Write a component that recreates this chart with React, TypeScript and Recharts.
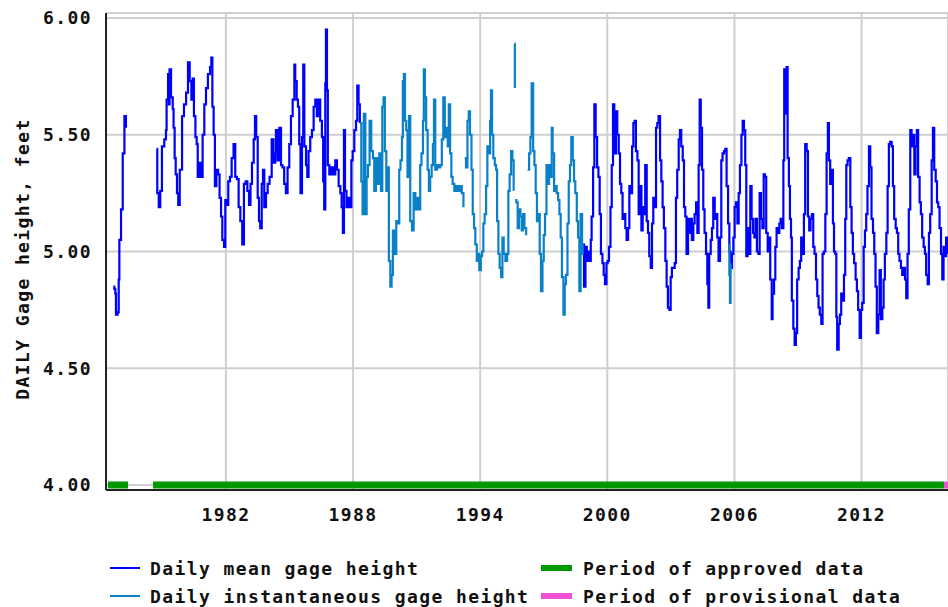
import * as React from "react";
import { CartesianGrid, Line, LineChart, XAxis, YAxis } from "recharts";

// gage height readings, [decimal year, feet]; null breaks the line
type Pt = [number, number | null];

const meanEarly: Pt[] = [
  [1976.69, 4.85], [1976.73, 4.84], [1976.78, 4.82], [1976.81, 4.73], [1976.89, 4.74],
  [1976.94, 4.88], [1976.97, 5.05], [1977.05, 5.18], [1977.13, 5.42], [1977.21, 5.58],
  [1977.28, 5.53],
];

const meanMid: Pt[] = [
  [1978.73, 5.44], [1978.76, 5.25], [1978.83, 5.19], [1978.9, 5.26], [1978.98, 5.45],
  [1979.09, 5.48], [1979.17, 5.52], [1979.2, 5.65], [1979.27, 5.76], [1979.31, 5.63],
  [1979.34, 5.78], [1979.41, 5.66], [1979.49, 5.61], [1979.53, 5.53], [1979.58, 5.4],
  [1979.63, 5.33], [1979.69, 5.25], [1979.75, 5.2], [1979.82, 5.35], [1979.93, 5.58],
  [1980.02, 5.63], [1980.12, 5.68], [1980.21, 5.81], [1980.29, 5.73], [1980.37, 5.65],
  [1980.43, 5.74], [1980.49, 5.58], [1980.56, 5.49], [1980.62, 5.46], [1980.67, 5.32],
  [1980.73, 5.38], [1980.81, 5.32], [1980.9, 5.5], [1980.98, 5.63], [1981.06, 5.7],
  [1981.15, 5.76], [1981.25, 5.79], [1981.31, 5.83], [1981.36, 5.62], [1981.42, 5.5],
  [1981.48, 5.28], [1981.55, 5.35], [1981.63, 5.33], [1981.7, 5.23], [1981.77, 5.15],
  [1981.83, 5.05], [1981.91, 5.02], [1981.97, 5.22], [1982.05, 5.2], [1982.11, 5.3],
  [1982.19, 5.32], [1982.27, 5.4], [1982.36, 5.46], [1982.44, 5.32], [1982.52, 5.31],
  [1982.6, 5.19], [1982.68, 5.13], [1982.77, 5.03], [1982.85, 5.29], [1982.93, 5.3],
  [1983.01, 5.26], [1983.09, 5.2], [1983.16, 5.29], [1983.23, 5.38], [1983.31, 5.48],
  [1983.37, 5.58], [1983.43, 5.49], [1983.5, 5.23], [1983.56, 5.13], [1983.62, 5.1],
  [1983.69, 5.29], [1983.75, 5.35], [1983.81, 5.19], [1983.89, 5.25], [1983.97, 5.29],
  [1984.06, 5.32], [1984.16, 5.48], [1984.24, 5.38], [1984.33, 5.42], [1984.36, 5.52],
  [1984.44, 5.39], [1984.52, 5.53], [1984.6, 5.37], [1984.67, 5.36], [1984.75, 5.29],
  [1984.83, 5.25], [1984.91, 5.36], [1984.99, 5.46], [1985.07, 5.58], [1985.15, 5.65],
  [1985.23, 5.8], [1985.27, 5.73], [1985.34, 5.65], [1985.4, 5.62], [1985.46, 5.46],
  [1985.52, 5.25], [1985.59, 5.49], [1985.65, 5.8], [1985.7, 5.45], [1985.78, 5.37],
  [1985.84, 5.32], [1985.9, 5.43], [1985.98, 5.49], [1986.06, 5.52], [1986.14, 5.62],
  [1986.22, 5.65], [1986.29, 5.58], [1986.37, 5.65], [1986.45, 5.56], [1986.53, 5.49],
  [1986.59, 5.3], [1986.64, 5.18], [1986.69, 5.72], [1986.72, 5.95], [1986.77, 5.69],
  [1986.81, 5.37], [1986.88, 5.33], [1986.97, 5.36], [1987.07, 5.33], [1987.16, 5.39],
  [1987.24, 5.35], [1987.32, 5.28], [1987.4, 5.25], [1987.46, 5.19], [1987.52, 5.08],
  [1987.57, 5.52], [1987.62, 5.26], [1987.69, 5.19], [1987.77, 5.23], [1987.85, 5.19],
  [1987.92, 5.39], [1987.98, 5.43], [1988.06, 5.52], [1988.14, 5.56], [1988.2, 5.71],
  [1988.26, 5.63], [1988.32, 5.55],
];

const instSeries: Pt[] = [
  [1988.32, 5.55], [1988.39, 5.3], [1988.45, 5.16], [1988.51, 5.59], [1988.58, 5.16],
  [1988.64, 5.32], [1988.7, 5.37], [1988.78, 5.56], [1988.86, 5.43], [1988.94, 5.4],
  [1989.0, 5.26], [1989.08, 5.4], [1989.16, 5.29], [1989.24, 5.42], [1989.32, 5.26],
  [1989.38, 5.62], [1989.44, 5.66], [1989.5, 5.43], [1989.57, 5.26], [1989.63, 5.36],
  [1989.69, 4.96], [1989.76, 4.85], [1989.82, 4.9], [1989.88, 5.09], [1989.96, 4.99],
  [1990.04, 5.13], [1990.12, 5.12], [1990.18, 5.35], [1990.24, 5.39], [1990.31, 5.49],
  [1990.35, 5.73], [1990.4, 5.76], [1990.45, 5.56], [1990.51, 5.52], [1990.57, 5.32],
  [1990.64, 5.58], [1990.7, 5.13], [1990.78, 5.09], [1990.86, 5.25], [1990.94, 5.18],
  [1991.01, 5.23], [1991.09, 5.18], [1991.17, 5.37], [1991.23, 5.42], [1991.3, 5.56],
  [1991.34, 5.78], [1991.39, 5.66], [1991.45, 5.52], [1991.52, 5.35], [1991.58, 5.26],
  [1991.64, 5.32], [1991.71, 5.37], [1991.77, 5.46], [1991.82, 5.65], [1991.88, 5.35],
  [1991.96, 5.37], [1992.04, 5.36], [1992.12, 5.37], [1992.19, 5.48], [1992.26, 5.66],
  [1992.33, 5.49], [1992.39, 5.53], [1992.47, 5.45], [1992.52, 5.63], [1992.58, 5.42],
  [1992.64, 5.32], [1992.7, 5.29], [1992.78, 5.26], [1992.86, 5.28], [1992.96, 5.26],
  [1993.05, 5.28], [1993.13, 5.25], [1993.21, 5.19], [1993.24, null], [1993.27, 5.4],
  [1993.33, 5.36], [1993.4, 5.56], [1993.46, 5.6], [1993.52, 5.5], [1993.59, 5.35],
  [1993.65, 5.16], [1993.71, 5.1], [1993.77, 5.03], [1993.84, 4.96], [1993.9, 4.99],
  [1993.96, 4.92], [1994.03, 4.98], [1994.09, 5.0], [1994.15, 5.12], [1994.21, 5.16],
  [1994.28, 5.28], [1994.34, 5.45], [1994.4, 5.42], [1994.47, 5.56], [1994.51, 5.69],
  [1994.56, 5.5], [1994.62, 5.4], [1994.69, 5.37], [1994.75, 5.35], [1994.8, 5.13],
  [1994.86, 4.99], [1994.92, 4.93], [1994.99, 4.89], [1995.05, 5.06], [1995.11, 4.99],
  [1995.19, 4.96], [1995.27, 4.99], [1995.33, 5.26], [1995.39, 5.33], [1995.46, 5.43],
  [1995.52, 5.39], [1995.58, 5.26], [1995.6, null], [1995.63, 5.89], [1995.635, 5.7],
  [1995.64, null], [1995.65, 5.22], [1995.71, 5.21], [1995.77, 5.1], [1995.83, 5.18],
  [1995.9, 5.15], [1995.96, 5.09], [1996.02, 5.16], [1996.09, 5.1], [1996.17, 5.07],
  [1996.2, null], [1996.24, 5.35], [1996.31, 5.42], [1996.37, 5.49], [1996.43, 5.72],
  [1996.5, 5.43], [1996.56, 5.37], [1996.62, 5.25], [1996.68, 5.13], [1996.75, 5.16],
  [1996.81, 4.99], [1996.87, 4.83], [1996.94, 4.96], [1997.0, 5.07], [1997.06, 5.16],
  [1997.13, 5.37], [1997.19, 5.29], [1997.25, 5.37], [1997.31, 5.32], [1997.38, 5.53],
  [1997.42, 5.42], [1997.49, 5.26], [1997.55, 5.28], [1997.61, 5.25], [1997.68, 5.22],
  [1997.74, 5.16], [1997.8, 5.06], [1997.86, 4.89], [1997.93, 4.73], [1997.99, 4.86],
  [1998.05, 4.9], [1998.12, 5.12], [1998.18, 5.3], [1998.24, 5.37], [1998.3, 5.49],
  [1998.37, 5.39], [1998.43, 5.3], [1998.49, 5.25], [1998.56, 5.13], [1998.62, 5.06],
  [1998.68, 4.83], [1998.74, 5.16], [1998.81, 4.99], [1998.84, 5.03],
];

const instBlip: Pt[] = [
  [2005.73, 5.03], [2005.76, 4.9], [2005.79, 4.78], [2005.82, 4.95],
];

const meanLate: Pt[] = [
  [1998.84, 5.03], [1998.9, 4.85], [1998.97, 5.02], [1999.03, 4.96], [1999.09, 5.0],
  [1999.15, 4.96], [1999.22, 5.05], [1999.26, 5.15], [1999.33, 5.36], [1999.39, 5.63],
  [1999.45, 5.49], [1999.52, 5.36], [1999.58, 5.32], [1999.64, 5.16], [1999.7, 4.99],
  [1999.77, 4.95], [1999.83, 4.9], [1999.89, 4.86], [1999.96, 4.95], [2000.02, 4.96],
  [2000.08, 5.02], [2000.15, 5.19], [2000.21, 5.37], [2000.27, 5.63], [2000.33, 5.42],
  [2000.41, 5.6], [2000.47, 5.5], [2000.54, 5.42], [2000.6, 5.29], [2000.66, 5.25],
  [2000.72, 5.14], [2000.79, 5.16], [2000.85, 5.1], [2000.91, 5.05], [2000.98, 5.1],
  [2001.04, 5.28], [2001.1, 5.25], [2001.17, 5.45], [2001.23, 5.55], [2001.29, 5.56],
  [2001.35, 5.43], [2001.42, 5.39], [2001.48, 5.16], [2001.54, 5.28], [2001.61, 5.09],
  [2001.67, 5.19], [2001.73, 5.16], [2001.79, 5.37], [2001.86, 5.13], [2001.92, 5.08],
  [2001.98, 4.98], [2002.05, 4.93], [2002.11, 5.12], [2002.17, 5.23], [2002.23, 5.19],
  [2002.3, 5.53], [2002.36, 5.55], [2002.42, 5.58], [2002.49, 5.39], [2002.55, 5.3],
  [2002.61, 5.19], [2002.67, 5.1], [2002.74, 4.96], [2002.8, 4.85], [2002.86, 4.76],
  [2002.93, 4.75], [2002.99, 4.89], [2003.05, 4.93], [2003.12, 4.93], [2003.18, 4.95],
  [2003.24, 5.23], [2003.3, 5.35], [2003.37, 5.48], [2003.43, 5.52], [2003.49, 5.45],
  [2003.56, 5.39], [2003.62, 5.19], [2003.68, 5.15], [2003.74, 4.99], [2003.81, 5.14],
  [2003.87, 5.08], [2003.93, 5.14], [2003.99, 5.05], [2004.06, 5.12], [2004.12, 5.16],
  [2004.19, 5.21], [2004.25, 5.08], [2004.31, 5.37], [2004.36, 5.65], [2004.41, 5.53],
  [2004.47, 5.35], [2004.53, 5.18], [2004.59, 5.08], [2004.66, 4.99], [2004.72, 4.86],
  [2004.77, 4.76], [2004.81, 4.99], [2004.88, 5.05], [2004.94, 5.1], [2005.0, 5.23],
  [2005.07, 5.14], [2005.13, 5.16], [2005.19, 5.06], [2005.25, 4.96], [2005.32, 5.06],
  [2005.38, 5.39], [2005.44, 5.42], [2005.51, 5.43], [2005.57, 5.44], [2005.63, 5.28],
  [2005.7, 5.12], [2005.76, 5.0], [2005.82, 4.93], [2005.88, 4.99], [2005.95, 5.06],
  [2006.01, 5.19], [2006.07, 5.21], [2006.14, 5.12], [2006.2, 5.25], [2006.26, 5.37],
  [2006.33, 5.5], [2006.39, 5.56], [2006.45, 5.52], [2006.51, 5.37], [2006.56, 4.98],
  [2006.62, 5.1], [2006.69, 4.99], [2006.75, 5.28], [2006.81, 5.14], [2006.88, 5.08],
  [2006.94, 5.06], [2007.0, 5.14], [2007.06, 5.0], [2007.13, 4.99], [2007.19, 5.25],
  [2007.25, 5.14], [2007.32, 5.1], [2007.38, 5.33], [2007.44, 5.32], [2007.5, 5.08],
  [2007.57, 5.0], [2007.63, 5.06], [2007.69, 4.88], [2007.76, 4.71], [2007.8, 4.82],
  [2007.87, 4.88], [2007.93, 5.02], [2007.99, 5.1], [2008.05, 5.08], [2008.12, 5.12],
  [2008.18, 5.14], [2008.24, 5.1], [2008.31, 5.39], [2008.35, 5.78], [2008.4, 5.59],
  [2008.46, 5.79], [2008.51, 5.4], [2008.57, 5.28], [2008.62, 5.14], [2008.67, 5.06],
  [2008.71, 4.79], [2008.78, 4.67], [2008.84, 4.6], [2008.9, 4.65], [2008.96, 4.88],
  [2009.03, 4.93], [2009.09, 4.96], [2009.15, 5.06], [2009.22, 4.99], [2009.28, 5.16],
  [2009.34, 5.46], [2009.41, 5.43], [2009.47, 5.15], [2009.53, 5.09], [2009.59, 5.14],
  [2009.66, 5.16], [2009.72, 5.02], [2009.78, 4.99], [2009.85, 4.88], [2009.91, 4.81],
  [2009.97, 4.76], [2010.03, 4.73], [2010.1, 4.69], [2010.16, 4.99], [2010.22, 5.0],
  [2010.29, 5.16], [2010.35, 5.42], [2010.41, 5.55], [2010.46, 5.39], [2010.52, 5.29],
  [2010.59, 5.35], [2010.65, 5.12], [2010.7, 5.0], [2010.76, 4.99], [2010.81, 4.72],
  [2010.85, 4.58], [2010.92, 4.69], [2010.98, 4.73], [2011.04, 4.82], [2011.1, 4.79],
  [2011.17, 4.9], [2011.23, 5.14], [2011.28, 5.37], [2011.34, 5.39], [2011.4, 5.4],
  [2011.47, 5.19], [2011.53, 5.08], [2011.59, 4.99], [2011.65, 4.95], [2011.72, 4.88],
  [2011.78, 4.83], [2011.84, 4.75], [2011.91, 4.63], [2011.97, 4.75], [2012.03, 4.78],
  [2012.1, 5.02], [2012.16, 5.09], [2012.22, 5.16], [2012.28, 5.28], [2012.35, 5.45],
  [2012.41, 5.36], [2012.47, 5.14], [2012.54, 5.08], [2012.6, 4.99], [2012.66, 4.85],
  [2012.72, 4.65], [2012.79, 4.73], [2012.85, 4.92], [2012.91, 4.71], [2012.98, 4.76],
  [2013.04, 4.88], [2013.1, 4.99], [2013.17, 5.08], [2013.23, 5.28], [2013.29, 5.46],
  [2013.35, 5.47], [2013.42, 5.45], [2013.48, 5.28], [2013.54, 5.14], [2013.61, 5.1],
  [2013.67, 5.08], [2013.73, 4.99], [2013.79, 4.96], [2013.86, 4.93], [2013.92, 4.9],
  [2013.98, 4.93], [2014.05, 4.88], [2014.11, 4.8], [2014.17, 4.99], [2014.23, 5.18],
  [2014.3, 5.52], [2014.36, 5.45], [2014.42, 5.5], [2014.49, 5.33], [2014.55, 5.45],
  [2014.61, 5.52], [2014.67, 5.32], [2014.74, 5.21], [2014.8, 5.16], [2014.86, 5.06],
  [2014.93, 5.02], [2014.99, 4.99], [2015.05, 4.9], [2015.12, 4.86], [2015.18, 5.08],
  [2015.24, 5.16], [2015.31, 5.39], [2015.37, 5.53], [2015.43, 5.35], [2015.5, 5.3],
  [2015.56, 5.21], [2015.62, 5.19], [2015.68, 5.1], [2015.75, 4.99], [2015.81, 4.88],
  [2015.87, 5.02], [2015.93, 4.98], [2015.99, 5.06], [2016.07, 4.99],
];

// data-quality periods drawn along the 4.00 line
const approvedA: Pt[] = [[1976.43, 4], [1977.38, 4]];
const approvedB: Pt[] = [[1978.56, 4], [2015.89, 4]];
const provisional: Pt[] = [[2015.89, 4], [2016.08, 4]];

const yearTicks = [1982, 1988, 1994, 2000, 2006, 2012];
const heightTicks = [4, 4.5, 5, 5.5, 6];

const MEAN = "#0000ff";
const INST = "#0a80c8";
const APPROVED = "#009900";
const PROVISIONAL = "#f050d8";
const FONT = "'DejaVu Sans Mono', monospace";

const rows = (pts: Pt[]) => pts.map(([t, v]) => ({ t, v }));

const txt = {
  fontFamily: FONT,
  fontSize: 18,
  fontWeight: 700,
  letterSpacing: 1.4,
  fill: "#111",
};

export default function App() {
  // daily series are drawn as steps, the period bars as flat thick lines
  const series = (pts: Pt[], color: string, width: number, step: boolean) => (
    <Line
      data={rows(pts)}
      dataKey="v"
      type={step ? "stepAfter" : "linear"}
      stroke={color}
      strokeWidth={width}
      dot={false}
      isAnimationActive={false}
    />
  );
  return (
    <div style={{ width: 948, height: 607, position: "relative", background: "#fff" }}>
      <style>{"body{margin:0;overflow:hidden}"}</style>
      <LineChart width={948} height={540} margin={{ top: 13, right: 0, left: 0, bottom: 0 }}>
        <CartesianGrid stroke="#cfcfcf" strokeWidth={2} />
        <XAxis
          dataKey="t"
          type="number"
          domain={[1976.34, 2016.08]}
          ticks={yearTicks}
          allowDataOverflow
          height={50}
          tickLine={false}
          tickSize={0}
          tickMargin={18}
          tick={txt}
          axisLine={{ stroke: "#222", strokeWidth: 2 }}
        />
        <XAxis
          xAxisId="top"
          orientation="top"
          dataKey="t"
          type="number"
          domain={[1976.34, 2016.08]}
          height={0}
          tick={false}
          tickLine={false}
          axisLine={{ stroke: "#222", strokeWidth: 2 }}
        />
        <YAxis
          type="number"
          domain={[3.9786, 6.0214]}
          ticks={heightTicks}
          allowDataOverflow
          width={106}
          tickLine={false}
          tickSize={0}
          tickMargin={14}
          tick={txt}
          tickFormatter={(v: number) => v.toFixed(2)}
          axisLine={{ stroke: "#222", strokeWidth: 2 }}
          label={{
            content: () => (
              <text
                x={22}
                y={259}
                transform="rotate(-90 22 259)"
                textAnchor="middle"
                dominantBaseline="central"
                style={txt}
              >
                DAILY Gage height, feet
              </text>
            ),
          }}
        />
        {series(approvedA, APPROVED, 7, false)}
        {series(approvedB, APPROVED, 7, false)}
        {series(provisional, PROVISIONAL, 7, false)}
        {series(meanEarly, MEAN, 2.2, true)}
        {series(meanMid, MEAN, 2.2, true)}
        {series(meanLate, MEAN, 2.2, true)}
        {series(instSeries, INST, 2.2, true)}
        {series(instBlip, INST, 2.2, true)}
      </LineChart>
      <svg width={948} height={67} style={{ position: "absolute", left: 0, top: 540 }}>
        <line x1={110} x2={140} y1={28} y2={28} stroke={MEAN} strokeWidth={2} />
        <text x={150} y={35} style={txt}>Daily mean gage height</text>
        <line x1={110} x2={140} y1={56} y2={56} stroke={INST} strokeWidth={2} />
        <text x={150} y={63} style={txt}>Daily instantaneous gage height</text>
        <line x1={541} x2={572} y1={28} y2={28} stroke={APPROVED} strokeWidth={6} />
        <text x={583} y={35} style={txt}>Period of approved data</text>
        <line x1={541} x2={572} y1={56} y2={56} stroke={PROVISIONAL} strokeWidth={6} />
        <text x={583} y={63} style={txt}>Period of provisional data</text>
      </svg>
    </div>
  );
}
